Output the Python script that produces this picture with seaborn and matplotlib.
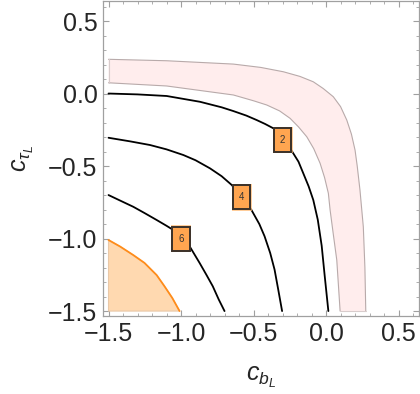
import numpy as np
import pandas as pd
import matplotlib
matplotlib.use("Agg")
import matplotlib.pyplot as plt
from matplotlib.patches import Rectangle
from matplotlib.ticker import MultipleLocator
import seaborn as sns

# contour lines (c_bL, c_tauL)
c2_x = [-1.5, -1.3, -1.099, -0.869, -0.72, -0.639, -0.55, -0.478, -0.42, -0.363, -0.299,
        -0.24, -0.19, -0.157, -0.12, -0.088, -0.057, -0.03, -0.01, 0.016]
c2_y = [0.0, -0.006, -0.017, -0.057, -0.095, -0.121, -0.152, -0.183, -0.21, -0.24, -0.321,
        -0.39, -0.47, -0.55, -0.64, -0.734, -0.87, -1.05, -1.25, -1.5]
c4_x = [-1.5, -1.35, -1.214, -1.1, -0.984, -0.9, -0.8, -0.72, -0.65, -0.581, -0.516,
        -0.46, -0.424, -0.385, -0.355, -0.33, -0.303]
c4_y = [-0.305, -0.33, -0.355, -0.385, -0.424, -0.46, -0.516, -0.57, -0.631, -0.716, -0.8,
        -0.9, -0.984, -1.1, -1.214, -1.35, -1.5]
c6_x = [-1.5, -1.42, -1.329, -1.25, -1.168, -1.1, -1.053, -1.0, -0.941, -0.872, -0.825,
        -0.781, -0.74, -0.7]
c6_y = [-0.7, -0.738, -0.781, -0.825, -0.872, -0.912, -0.941, -1.0, -1.053, -1.168, -1.25,
        -1.329, -1.42, -1.5]
levels = ["2", "4", "6"]
label_x = [-0.299, -0.581, -1.0]
label_y = [-0.321, -0.716, -1.0]

# orange excluded corner
orange_x = [-1.5, -1.42, -1.329, -1.252, -1.168, -1.114, -1.06, -1.01]
orange_y = [-1.01, -1.055, -1.114, -1.168, -1.252, -1.329, -1.41, -1.5]

# pink band, outer and inner edges
band_out_x = [-1.5, -1.099, -0.639, -0.45, -0.294, -0.18, -0.088, -0.02, 0.05, 0.1, 0.143,
              0.175, 0.2, 0.215, 0.234, 0.257, 0.268, 0.274]
band_out_y = [0.236, 0.226, 0.203, 0.18, 0.15, 0.118, 0.081, 0.035, -0.022, -0.09, -0.183,
              -0.28, -0.39, -0.5, -0.666, -0.919, -1.2, -1.5]
band_in_x = [-1.5, -1.099, -0.639, -0.5, -0.409, -0.32, -0.248, -0.19, -0.133, -0.085, -0.041,
             -0.01, 0.016, 0.028, 0.05, 0.074, 0.097]
band_in_y = [0.074, 0.052, -0.01, -0.05, -0.079, -0.12, -0.171, -0.23, -0.298, -0.38, -0.481,
             -0.58, -0.688, -0.803, -0.97, -1.148, -1.5]

sns.set_style("ticks")
plt.rcParams["font.family"] = ["Liberation Sans", "DejaVu Sans"]
plt.rcParams["mathtext.fontset"] = "custom"
plt.rcParams["mathtext.it"] = "Liberation Sans:italic"
plt.rcParams["mathtext.rm"] = "Liberation Sans"

fig = plt.figure(figsize=(4.2, 3.94), dpi=100)
ax = fig.add_axes([103 / 420, 78 / 394, 316 / 420, 315 / 394])

# pink band
bx = band_out_x + band_in_x[::-1]
by = band_out_y + band_in_y[::-1]
ax.fill(bx, by, facecolor="#FFEDED", edgecolor="none", zorder=1)
ax.plot(band_out_x, band_out_y, color="#B8AAAA", lw=0.8, zorder=2)
ax.plot(band_in_x, band_in_y, color="#B8AAAA", lw=0.8, zorder=2)
ax.plot([band_in_x[0], band_out_x[0]], [band_in_y[0], band_out_y[0]], color="#D8CCCC", lw=0.8, zorder=2)
ax.plot([band_in_x[-1], band_out_x[-1]], [band_in_y[-1], band_out_y[-1]], color="#D8CCCC", lw=0.8, zorder=2)

# orange corner
ox = [-1.5] + orange_x + [-1.5]
oy = [-1.5] + orange_y + [-1.5]
ax.fill(ox, oy, facecolor="#FFD9B0", edgecolor="#E8C8A8", lw=0.8, zorder=1)
ax.plot(orange_x, orange_y, color="#FF8C1A", lw=1.3, zorder=3)

# contours
for xs, ys in [(c2_x, c2_y), (c4_x, c4_y), (c6_x, c6_y)]:
    df = pd.DataFrame({"x": xs, "y": ys})
    sns.lineplot(data=df, x="x", y="y", sort=False, estimator=None,
                 color="black", lw=1.3, ax=ax, zorder=3)

# contour labels
w, h = 0.118, 0.165
for lx, ly, lev in zip(label_x, label_y, levels):
    ax.add_patch(Rectangle((lx - w / 2 - 0.01, ly - h / 2 - 0.01), w + 0.02, h + 0.02,
                           facecolor="#FFB870", edgecolor="none", alpha=0.7, zorder=4))
    ax.add_patch(Rectangle((lx - w / 2, ly - h / 2), w, h,
                           facecolor="#FFA550", edgecolor="#3A3028", lw=1.4, zorder=5))
    ax.text(lx, ly, lev, ha="center", va="center", fontsize=7, color="#333333", zorder=6)

ax.set_xlim(-1.538, 0.641)
ax.set_ylim(-1.534, 0.638)
ax.set_xlabel("$c_{b_L}$", fontsize=18, labelpad=14)
ax.set_ylabel(r"$c_{\tau_L}$", fontsize=18, labelpad=9)

ax.xaxis.set_major_locator(MultipleLocator(0.5))
ax.yaxis.set_major_locator(MultipleLocator(0.5))
ax.xaxis.set_minor_locator(MultipleLocator(0.1))
ax.yaxis.set_minor_locator(MultipleLocator(0.1))
ax.xaxis.set_major_formatter(plt.FuncFormatter(lambda v, p: f"{v:.1f}".replace("-", "\u2212")))
ax.yaxis.set_major_formatter(plt.FuncFormatter(lambda v, p: f"{v:.1f}".replace("-", "\u2212")))
ax.tick_params(which="both", direction="in", top=True, right=True, color="#A0A0A0",
               labelsize=18, pad=4)
ax.tick_params(which="major", length=4, width=0.8)
ax.tick_params(which="minor", length=2.5, width=0.6)
for s in ax.spines.values():
    s.set_color("#A0A0A0")
    s.set_linewidth(0.9)

fig.savefig("out.png", dpi=100)
